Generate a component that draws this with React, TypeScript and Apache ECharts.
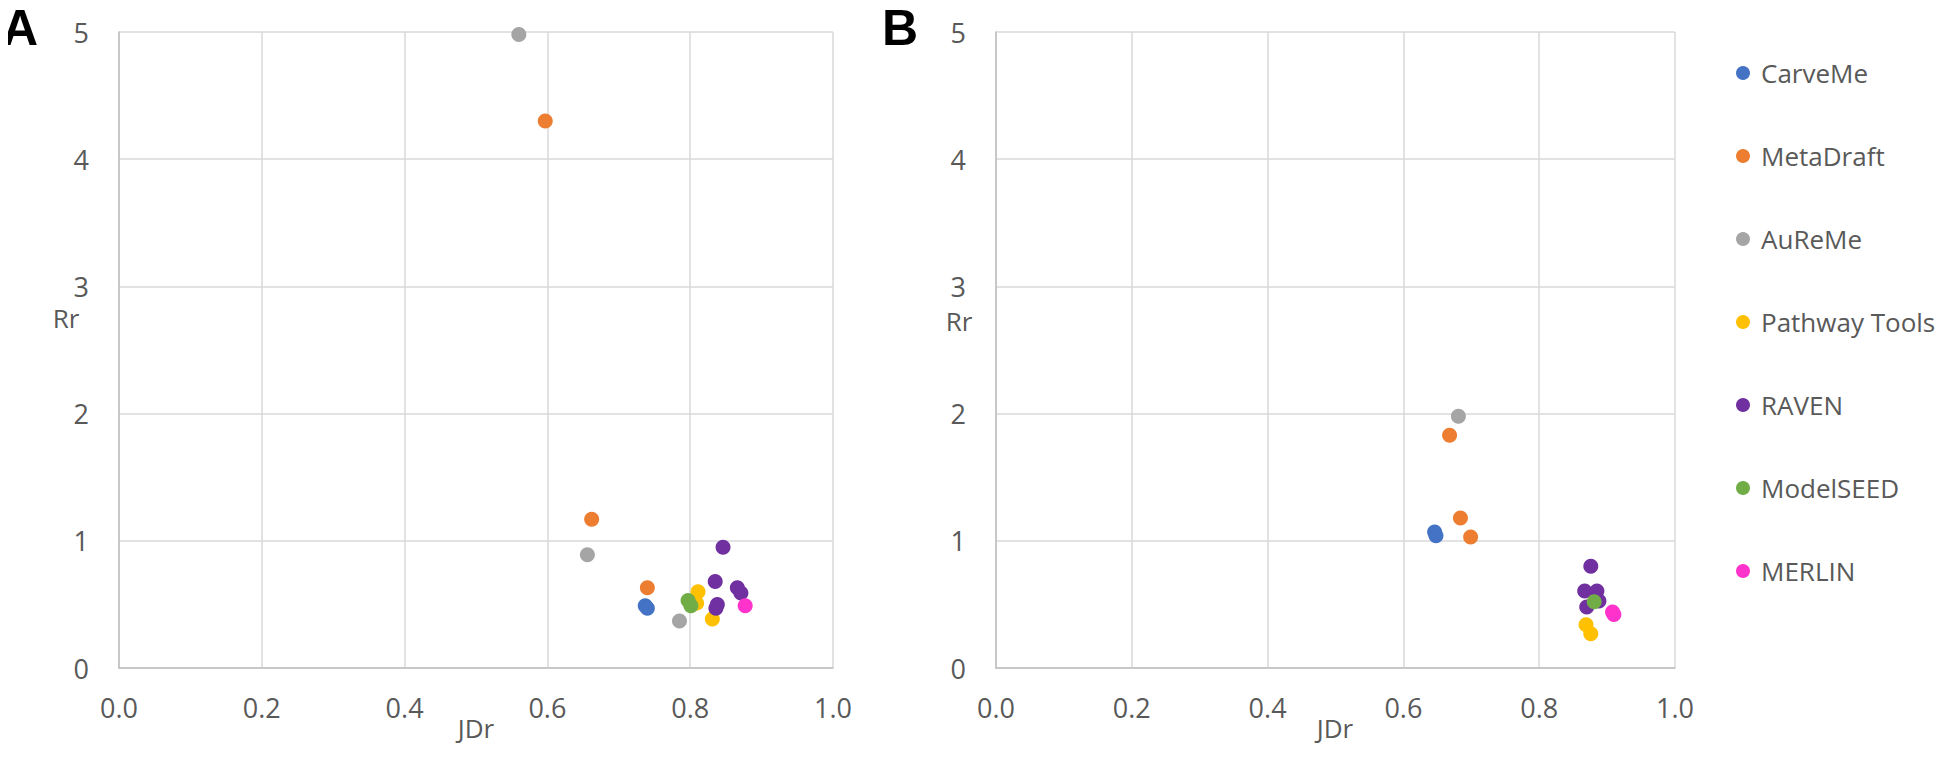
import React, { useEffect, useRef } from "react";
import * as echarts from "echarts";

const tools = ["CarveMe", "MetaDraft", "AuReMe", "Pathway Tools", "RAVEN", "ModelSEED", "MERLIN"];
const colors = ["#4472C4", "#ED7D31", "#A5A5A5", "#FFC000", "#7030A0", "#70AD47", "#FF33CC"];
const xTicks = ["0.0", "0.2", "0.4", "0.6", "0.8", "1.0"];
const yTicks = ["0", "1", "2", "3", "4", "5"];

// Panel A: [JDr, Rr]
const aCarveMe = [[0.737, 0.49], [0.740, 0.47]];
const aMetaDraft = [[0.597, 4.30], [0.662, 1.17], [0.740, 0.63]];
const aAuReMe = [[0.560, 4.98], [0.656, 0.89], [0.785, 0.37]];
const aPathway = [[0.811, 0.60], [0.809, 0.51], [0.831, 0.385]];
const aRaven = [[0.846, 0.95], [0.835, 0.68], [0.866, 0.63], [0.871, 0.59], [0.838, 0.50], [0.836, 0.47]];
const aModelSeed = [[0.797, 0.53], [0.801, 0.49]];
const aMerlin = [[0.877, 0.49]];

// Panel B: [JDr, Rr]
const bCarveMe = [[0.646, 1.07], [0.648, 1.04]];
const bMetaDraft = [[0.668, 1.83], [0.684, 1.18], [0.699, 1.03]];
const bAuReMe = [[0.681, 1.98]];
const bPathway = [[0.869, 0.34], [0.876, 0.27]];
const bRaven = [[0.876, 0.80], [0.867, 0.605], [0.885, 0.605], [0.888, 0.527], [0.870, 0.48]];
const bModelSeed = [[0.881, 0.52]];
const bMerlin = [[0.908, 0.44], [0.910, 0.42]];

const panelA = [aCarveMe, aMetaDraft, aAuReMe, aPathway, aRaven, aModelSeed, aMerlin];
const panelB = [bCarveMe, bMetaDraft, bAuReMe, bPathway, bRaven, bModelSeed, bMerlin];

const FONT = "Open Sans";
const TXT = "#595959";

export default function App() {
  const ref = useRef<HTMLDivElement>(null);
  useEffect(() => {
    if (!ref.current) return;
    const chart = echarts.init(ref.current, null, { renderer: "svg" });
    const mkX = (gi: number) => ({
      type: "value",
      gridIndex: gi,
      min: 0,
      max: 1,
      interval: 0.2,
      axisLine: { show: true, lineStyle: { color: "#BFBFBF", width: 1.5 } },
      axisTick: { show: false },
      splitLine: { show: true, lineStyle: { color: "#D9D9D9", width: 1.5 } },
      axisLabel: {
        color: TXT,
        fontFamily: FONT,
        fontSize: 27,
        margin: 26,
        formatter: (v: number) => xTicks[Math.round(v / 0.2)] ?? v.toFixed(1),
      },
    });
    const mkY = (gi: number) => ({
      type: "value",
      gridIndex: gi,
      min: 0,
      max: 5,
      interval: 1,
      axisLine: { show: true, lineStyle: { color: "#BFBFBF", width: 1.5 } },
      axisTick: { show: false },
      splitLine: { show: true, lineStyle: { color: "#D9D9D9", width: 1.5 } },
      axisLabel: {
        color: TXT,
        fontFamily: FONT,
        fontSize: 27,
        lineHeight: 24,
        margin: 30,
        formatter: (v: number) => yTicks[Math.round(v)] ?? String(v),
      },
    });
    const series: any[] = [];
    [panelA, panelB].forEach((panel, pi) => {
      panel.forEach((pts, ti) => {
        series.push({
          type: "scatter",
          name: tools[ti],
          xAxisIndex: pi,
          yAxisIndex: pi,
          data: pts,
          symbol: "circle",
          symbolSize: 15,
          itemStyle: { color: colors[ti], opacity: 1 },
        });
      });
    });
    const titleStyle = { fill: TXT, font: `26px '${FONT}'` };
    chart.setOption({
      animation: false,
      backgroundColor: "#ffffff",
      grid: [
        { left: 119, top: 32, width: 714, height: 636 },
        { left: 996, top: 32, width: 679, height: 636 },
      ],
      xAxis: [mkX(0), mkX(1)],
      yAxis: [mkY(0), mkY(1)],
      legend: {
        data: tools,
        orient: "vertical",
        left: 1731,
        top: 54,
        itemGap: 55,
        itemWidth: 14,
        itemHeight: 14,
        icon: "circle",
        textStyle: { color: TXT, fontFamily: FONT, fontSize: 26, lineHeight: 28, padding: [0, 0, 0, 6] },
      },
      graphic: [
        { type: "text", left: 2, top: 3, style: { text: "A", fill: "#000", font: "bold 50px 'Liberation Sans'" } },
        { type: "text", left: 882, top: 3, style: { text: "B", fill: "#000", font: "bold 50px 'Liberation Sans'" } },
        { type: "text", x: 66, y: 318, style: { ...titleStyle, text: "Rr", textAlign: "center", textVerticalAlign: "middle" } },
        { type: "text", x: 959, y: 321, style: { ...titleStyle, text: "Rr", textAlign: "center", textVerticalAlign: "middle" } },
        { type: "text", x: 476, y: 728, style: { ...titleStyle, text: "JDr", textAlign: "center", textVerticalAlign: "middle" } },
        { type: "text", x: 1335, y: 728, style: { ...titleStyle, text: "JDr", textAlign: "center", textVerticalAlign: "middle" } },
      ],
      series,
    });
    return () => chart.dispose();
  }, []);
  return <div ref={ref} style={{ width: 1946, height: 768, margin: -8 }} />;
}
